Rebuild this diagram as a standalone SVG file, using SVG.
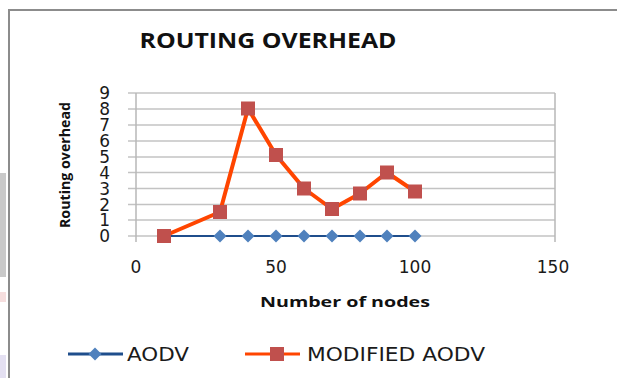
<svg xmlns="http://www.w3.org/2000/svg" width="617" height="378" viewBox="0 0 617 378">
  <defs>
    <style>
      .grid { stroke: #c3c3c3; stroke-width: 1.5; fill: none; }
      .axis { stroke: #b8b8b8; stroke-width: 1.5; fill: none; }
      .tick { font-family: "DejaVu Sans", "Verdana", sans-serif; font-size: 17px; fill: #1a1a1a; }
      .ylab { text-anchor: end; }
      .xlab { text-anchor: middle; }
      .title { font-family: "Open Sans", "Liberation Sans", sans-serif; font-weight: bold; fill: #111; }
      .legtxt { font-family: "DejaVu Sans", "Verdana", sans-serif; font-size: 19px; fill: #1a1a1a; }
      .sq { fill: #c0504d; }
      .dm { fill: #4f81bd; }
    </style>
    <rect id="sq" class="sq" x="-7" y="-7" width="14" height="14"/>
    <path id="dm" class="dm" d="M0,-6.5 L6.5,0 L0,6.5 L-6.5,0 Z"/>
  </defs>

  <rect width="617" height="378" fill="#ffffff"/>

  <!-- faint page tint at the left margin -->
  <rect x="0" y="173" width="6" height="104" fill="#c9c9c9"/>
  <rect x="0" y="292" width="6" height="10" fill="#f6dede"/>
  <rect x="0" y="355" width="6" height="23" fill="#e4e0f2"/>

  <!-- chart frame -->
  <path d="M9,378 V10 H617" fill="none" stroke="#8c8c8c" stroke-width="2"/>

  <!-- title -->
  <text class="title" x="268" y="48" font-size="21" text-anchor="middle" textLength="257" lengthAdjust="spacingAndGlyphs">ROUTING OVERHEAD</text>

  <!-- plot grid -->
  <g id="grid">
    <path class="grid" d="M128,93 H555 M128,109 H555 M128,125 H555 M128,141 H555 M128,157 H555 M128,172.5 H555 M128,188.5 H555 M128,204.5 H555 M128,220 H555 M128,236 H555"/>
    <path class="axis" d="M136,93 V242 M555,93 V242"/>
  </g>

  <!-- y-axis labels -->
  <g id="y-labels" class="tick ylab">
    <text x="110" y="99">9</text>
    <text x="110" y="115">8</text>
    <text x="110" y="131">7</text>
    <text x="110" y="147">6</text>
    <text x="110" y="163">5</text>
    <text x="110" y="178.5">4</text>
    <text x="110" y="194.5">3</text>
    <text x="110" y="210.5">2</text>
    <text x="110" y="226">1</text>
    <text x="110" y="242">0</text>
  </g>

  <!-- x-axis labels -->
  <g id="x-labels" class="tick xlab">
    <text x="136" y="273">0</text>
    <text x="276" y="273">50</text>
    <text x="415" y="273">100</text>
    <text x="553" y="273">150</text>
  </g>

  <!-- axis titles -->
  <text class="title" x="0" y="0" font-size="14" text-anchor="middle" textLength="126" lengthAdjust="spacingAndGlyphs" transform="translate(70,165) rotate(-90)">Routing overhead</text>
  <text class="title" x="345" y="307" font-size="15" text-anchor="middle" textLength="170" lengthAdjust="spacingAndGlyphs">Number of nodes</text>

  <!-- series lines -->
  <g id="connectors">
    <polyline id="aodv-line" points="164,236 415,236" fill="none" stroke="#1f4e8c" stroke-width="2"/>
    <polyline id="modified-line" points="164,236 220,212 248,108.5 276,155 304,188.5 332,209 360,193.5 387,172.5 415,191.5" fill="none" stroke="#ff4500" stroke-width="4" stroke-linejoin="round"/>
  </g>

  <!-- AODV markers -->
  <g id="aodv-markers">
    <use href="#dm" x="164" y="236"/>
    <use href="#dm" x="220" y="236"/>
    <use href="#dm" x="248" y="236"/>
    <use href="#dm" x="276" y="236"/>
    <use href="#dm" x="304" y="236"/>
    <use href="#dm" x="332" y="236"/>
    <use href="#dm" x="360" y="236"/>
    <use href="#dm" x="387" y="236"/>
    <use href="#dm" x="415" y="236"/>
  </g>

  <!-- MODIFIED AODV markers -->
  <g id="modified-markers">
    <use href="#sq" x="164" y="236"/>
    <use href="#sq" x="220" y="212"/>
    <use href="#sq" x="248" y="108.5"/>
    <use href="#sq" x="276" y="155"/>
    <use href="#sq" x="304" y="188.5"/>
    <use href="#sq" x="332" y="209"/>
    <use href="#sq" x="360" y="193.5"/>
    <use href="#sq" x="387" y="172.5"/>
    <use href="#sq" x="415" y="191.5"/>
  </g>

  <!-- legend -->
  <g id="legend-aodv">
    <line x1="68" y1="354" x2="123" y2="354" stroke="#1f4e8c" stroke-width="3"/>
    <use href="#dm" x="95" y="354"/>
    <text class="legtxt" x="127" y="361" textLength="62" lengthAdjust="spacingAndGlyphs">AODV</text>
  </g>
  <g id="legend-modified">
    <line x1="245" y1="354" x2="300" y2="354" stroke="#ff4500" stroke-width="3"/>
    <use href="#sq" x="277" y="354"/>
    <text class="legtxt" x="307" y="361" textLength="178" lengthAdjust="spacingAndGlyphs">MODIFIED AODV</text>
  </g>
</svg>
